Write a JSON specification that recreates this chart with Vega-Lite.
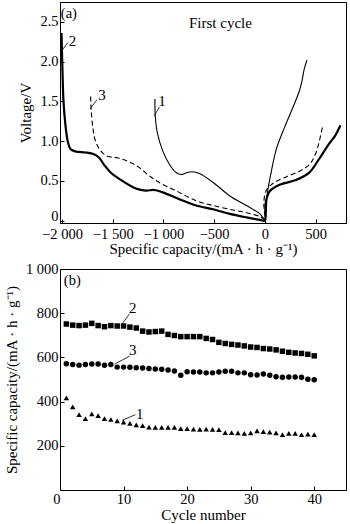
{
  "$schema": "https://vega.github.io/schema/vega-lite/v6.json",
  "padding": {"left": 3, "top": 1, "right": 1, "bottom": 1},
  "background": "white",
  "spacing": 3,
  "config": {
    "font": "Liberation Serif",
    "view": {"stroke": "black", "strokeWidth": 1},
    "axis": {
      "grid": false,
      "domainColor": "black",
      "tickColor": "black",
      "tickSize": -4,
      "labelColor": "black",
      "titleColor": "black",
      "labelFont": "Liberation Serif",
      "titleFont": "Liberation Serif",
      "labelFontSize": 14.5,
      "titleFontSize": 15,
      "titleFontWeight": "normal",
      "labelPadding": 6
    },
    "text": {"font": "Liberation Serif", "color": "black"}
  },
  "datasets": {
    "curves": [
      {"s": "2", "i": 1, "x": -2005, "y": 2.36},
      {"s": "2", "i": 2, "x": -2000, "y": 2.1},
      {"s": "2", "i": 3, "x": -1996, "y": 1.9},
      {"s": "2", "i": 4, "x": -1986, "y": 1.51},
      {"s": "2", "i": 5, "x": -1967, "y": 1.21},
      {"s": "2", "i": 6, "x": -1944, "y": 1.0},
      {"s": "2", "i": 7, "x": -1917, "y": 0.9},
      {"s": "2", "i": 8, "x": -1868, "y": 0.87},
      {"s": "2", "i": 9, "x": -1769, "y": 0.857},
      {"s": "2", "i": 10, "x": -1686, "y": 0.835},
      {"s": "2", "i": 11, "x": -1636, "y": 0.794},
      {"s": "2", "i": 12, "x": -1584, "y": 0.7},
      {"s": "2", "i": 13, "x": -1521, "y": 0.606},
      {"s": "2", "i": 14, "x": -1405, "y": 0.5},
      {"s": "2", "i": 15, "x": -1273, "y": 0.405},
      {"s": "2", "i": 16, "x": -1174, "y": 0.378},
      {"s": "2", "i": 17, "x": -1091, "y": 0.385},
      {"s": "2", "i": 18, "x": -1008, "y": 0.355},
      {"s": "2", "i": 19, "x": -843, "y": 0.27},
      {"s": "2", "i": 20, "x": -678, "y": 0.19},
      {"s": "2", "i": 21, "x": -500, "y": 0.14},
      {"s": "2", "i": 22, "x": -345, "y": 0.084},
      {"s": "2", "i": 23, "x": -180, "y": 0.04},
      {"s": "2", "i": 24, "x": -60, "y": 0.012},
      {"s": "2", "i": 25, "x": 0, "y": 0},
      {"s": "2", "i": 26, "x": 4, "y": 0.12},
      {"s": "2", "i": 27, "x": 12, "y": 0.25},
      {"s": "2", "i": 28, "x": 48, "y": 0.37},
      {"s": "2", "i": 29, "x": 145, "y": 0.45},
      {"s": "2", "i": 30, "x": 306, "y": 0.51},
      {"s": "2", "i": 31, "x": 435, "y": 0.6},
      {"s": "2", "i": 32, "x": 532, "y": 0.77},
      {"s": "2", "i": 33, "x": 629, "y": 0.96},
      {"s": "2", "i": 34, "x": 694, "y": 1.07},
      {"s": "2", "i": 35, "x": 745, "y": 1.2},
      {"s": "3", "i": 1, "x": -1718, "y": 1.56},
      {"s": "3", "i": 2, "x": -1712, "y": 1.38},
      {"s": "3", "i": 3, "x": -1696, "y": 1.17},
      {"s": "3", "i": 4, "x": -1670, "y": 1.0},
      {"s": "3", "i": 5, "x": -1620, "y": 0.88},
      {"s": "3", "i": 6, "x": -1554, "y": 0.81},
      {"s": "3", "i": 7, "x": -1455, "y": 0.79},
      {"s": "3", "i": 8, "x": -1339, "y": 0.74},
      {"s": "3", "i": 9, "x": -1240, "y": 0.67},
      {"s": "3", "i": 10, "x": -1141, "y": 0.565},
      {"s": "3", "i": 11, "x": -1042, "y": 0.48},
      {"s": "3", "i": 12, "x": -876, "y": 0.376},
      {"s": "3", "i": 13, "x": -678, "y": 0.25},
      {"s": "3", "i": 14, "x": -510, "y": 0.19},
      {"s": "3", "i": 15, "x": -300, "y": 0.13},
      {"s": "3", "i": 16, "x": -181, "y": 0.1},
      {"s": "3", "i": 17, "x": -49, "y": 0.05},
      {"s": "3", "i": 18, "x": 0, "y": 0.01},
      {"s": "3", "i": 19, "x": -10, "y": 0.2},
      {"s": "3", "i": 20, "x": 10, "y": 0.37},
      {"s": "3", "i": 21, "x": 82, "y": 0.47},
      {"s": "3", "i": 22, "x": 210, "y": 0.55},
      {"s": "3", "i": 23, "x": 339, "y": 0.62},
      {"s": "3", "i": 24, "x": 435, "y": 0.7},
      {"s": "3", "i": 25, "x": 500, "y": 0.84},
      {"s": "3", "i": 26, "x": 570, "y": 1.19},
      {"s": "1", "i": 1, "x": -1084, "y": 1.53},
      {"s": "1", "i": 2, "x": -1081, "y": 1.32},
      {"s": "1", "i": 3, "x": -1058, "y": 1.09},
      {"s": "1", "i": 4, "x": -1008, "y": 0.88},
      {"s": "1", "i": 5, "x": -942, "y": 0.71},
      {"s": "1", "i": 6, "x": -876, "y": 0.606},
      {"s": "1", "i": 7, "x": -826, "y": 0.58},
      {"s": "1", "i": 8, "x": -777, "y": 0.6},
      {"s": "1", "i": 9, "x": -720, "y": 0.615},
      {"s": "1", "i": 10, "x": -641, "y": 0.59},
      {"s": "1", "i": 11, "x": -510, "y": 0.48},
      {"s": "1", "i": 12, "x": -345, "y": 0.31},
      {"s": "1", "i": 13, "x": -181, "y": 0.19},
      {"s": "1", "i": 14, "x": -49, "y": 0.084},
      {"s": "1", "i": 15, "x": 0, "y": 0.02},
      {"s": "1", "i": 16, "x": 23, "y": 0.335},
      {"s": "1", "i": 17, "x": 65, "y": 0.627},
      {"s": "1", "i": 18, "x": 113, "y": 0.9},
      {"s": "1", "i": 19, "x": 193, "y": 1.17},
      {"s": "1", "i": 20, "x": 275, "y": 1.42},
      {"s": "1", "i": 21, "x": 340, "y": 1.63},
      {"s": "1", "i": 22, "x": 365, "y": 1.75},
      {"s": "1", "i": 23, "x": 387, "y": 1.9},
      {"s": "1", "i": 24, "x": 415, "y": 2.02}
    ],
    "labelsA": [
      {"t": "2", "x": -1896, "y": 2.26},
      {"t": "3", "x": -1606, "y": 1.58},
      {"t": "1", "x": -1014, "y": 1.51}
    ],
    "leadersA": [
      {"x": -2001, "y": 2.14, "x2": -1942, "y2": 2.24},
      {"x": -1722, "y": 1.41, "x2": -1655, "y2": 1.52},
      {"x": -1090, "y": 1.32, "x2": -1040, "y2": 1.43}
    ],
    "cycles": [
      {"s": "2", "c": 1, "v": 751}, {"s": "2", "c": 2, "v": 746}, {"s": "2", "c": 3, "v": 744}, {"s": "2", "c": 4, "v": 746},
      {"s": "2", "c": 5, "v": 754}, {"s": "2", "c": 6, "v": 744}, {"s": "2", "c": 7, "v": 739}, {"s": "2", "c": 8, "v": 744},
      {"s": "2", "c": 9, "v": 742}, {"s": "2", "c": 10, "v": 742}, {"s": "2", "c": 11, "v": 737}, {"s": "2", "c": 12, "v": 733},
      {"s": "2", "c": 13, "v": 719}, {"s": "2", "c": 14, "v": 715}, {"s": "2", "c": 15, "v": 717}, {"s": "2", "c": 16, "v": 719},
      {"s": "2", "c": 17, "v": 704}, {"s": "2", "c": 18, "v": 699}, {"s": "2", "c": 19, "v": 694}, {"s": "2", "c": 20, "v": 694},
      {"s": "2", "c": 21, "v": 694}, {"s": "2", "c": 22, "v": 694}, {"s": "2", "c": 23, "v": 686}, {"s": "2", "c": 24, "v": 681},
      {"s": "2", "c": 25, "v": 668}, {"s": "2", "c": 26, "v": 663}, {"s": "2", "c": 27, "v": 659}, {"s": "2", "c": 28, "v": 656},
      {"s": "2", "c": 29, "v": 652}, {"s": "2", "c": 30, "v": 647}, {"s": "2", "c": 31, "v": 645}, {"s": "2", "c": 32, "v": 640},
      {"s": "2", "c": 33, "v": 638}, {"s": "2", "c": 34, "v": 634}, {"s": "2", "c": 35, "v": 628}, {"s": "2", "c": 36, "v": 623},
      {"s": "2", "c": 37, "v": 620}, {"s": "2", "c": 38, "v": 618}, {"s": "2", "c": 39, "v": 614}, {"s": "2", "c": 40, "v": 607},
      {"s": "3", "c": 1, "v": 571}, {"s": "3", "c": 2, "v": 568}, {"s": "3", "c": 3, "v": 565}, {"s": "3", "c": 4, "v": 568},
      {"s": "3", "c": 5, "v": 570}, {"s": "3", "c": 6, "v": 570}, {"s": "3", "c": 7, "v": 564}, {"s": "3", "c": 8, "v": 568},
      {"s": "3", "c": 9, "v": 556}, {"s": "3", "c": 10, "v": 556}, {"s": "3", "c": 11, "v": 555}, {"s": "3", "c": 12, "v": 553},
      {"s": "3", "c": 13, "v": 552}, {"s": "3", "c": 14, "v": 550}, {"s": "3", "c": 15, "v": 547}, {"s": "3", "c": 16, "v": 546},
      {"s": "3", "c": 17, "v": 543}, {"s": "3", "c": 18, "v": 538}, {"s": "3", "c": 19, "v": 519}, {"s": "3", "c": 20, "v": 535},
      {"s": "3", "c": 21, "v": 534}, {"s": "3", "c": 22, "v": 534}, {"s": "3", "c": 23, "v": 530}, {"s": "3", "c": 24, "v": 530},
      {"s": "3", "c": 25, "v": 534}, {"s": "3", "c": 26, "v": 537}, {"s": "3", "c": 27, "v": 537}, {"s": "3", "c": 28, "v": 530},
      {"s": "3", "c": 29, "v": 530}, {"s": "3", "c": 30, "v": 521}, {"s": "3", "c": 31, "v": 520}, {"s": "3", "c": 32, "v": 525},
      {"s": "3", "c": 33, "v": 519}, {"s": "3", "c": 34, "v": 512}, {"s": "3", "c": 35, "v": 510}, {"s": "3", "c": 36, "v": 511},
      {"s": "3", "c": 37, "v": 511}, {"s": "3", "c": 38, "v": 510}, {"s": "3", "c": 39, "v": 501}, {"s": "3", "c": 40, "v": 499},
      {"s": "1", "c": 1, "v": 417}, {"s": "1", "c": 2, "v": 376}, {"s": "1", "c": 3, "v": 341}, {"s": "1", "c": 4, "v": 323},
      {"s": "1", "c": 5, "v": 345}, {"s": "1", "c": 6, "v": 336}, {"s": "1", "c": 7, "v": 323}, {"s": "1", "c": 8, "v": 319},
      {"s": "1", "c": 9, "v": 313}, {"s": "1", "c": 10, "v": 307}, {"s": "1", "c": 11, "v": 301}, {"s": "1", "c": 12, "v": 295},
      {"s": "1", "c": 13, "v": 291}, {"s": "1", "c": 14, "v": 285}, {"s": "1", "c": 15, "v": 283}, {"s": "1", "c": 16, "v": 283},
      {"s": "1", "c": 17, "v": 283}, {"s": "1", "c": 18, "v": 283}, {"s": "1", "c": 19, "v": 278}, {"s": "1", "c": 20, "v": 278},
      {"s": "1", "c": 21, "v": 276}, {"s": "1", "c": 22, "v": 274}, {"s": "1", "c": 23, "v": 276}, {"s": "1", "c": 24, "v": 274},
      {"s": "1", "c": 25, "v": 273}, {"s": "1", "c": 26, "v": 260}, {"s": "1", "c": 27, "v": 260}, {"s": "1", "c": 28, "v": 258},
      {"s": "1", "c": 29, "v": 256}, {"s": "1", "c": 30, "v": 259}, {"s": "1", "c": 31, "v": 267}, {"s": "1", "c": 32, "v": 264},
      {"s": "1", "c": 33, "v": 262}, {"s": "1", "c": 34, "v": 259}, {"s": "1", "c": 35, "v": 251}, {"s": "1", "c": 36, "v": 256},
      {"s": "1", "c": 37, "v": 256}, {"s": "1", "c": 38, "v": 250}, {"s": "1", "c": 39, "v": 253}, {"s": "1", "c": 40, "v": 251}
    ],
    "labelsB": [
      {"t": "2", "c": 11.45, "v": 824},
      {"t": "3", "c": 11.45, "v": 632},
      {"t": "1", "c": 12.54, "v": 345}
    ],
    "leadersB": [
      {"c": 9.77, "v": 752, "c2": 10.97, "v2": 798},
      {"c": 8.58, "v": 569, "c2": 10.97, "v2": 606},
      {"c": 9.77, "v": 315, "c2": 11.87, "v2": 341}
    ]
  },
  "vconcat": [
    {
      "width": 286,
      "height": 221,
      "encoding": {
        "x": {
          "field": "x", "type": "quantitative",
          "scale": {"domain": [-2020, 800], "nice": false, "zero": false},
          "axis": {
            "values": [-2000, -1500, -1000, -500, 0, 500],
            "labelExpr": "replace(datum.label, ',', ' ')",
            "labelPadding": 8,
            "title": "Specific capacity/(mA · h · g⁻¹)",
            "titlePadding": 1
          }
        },
        "y": {
          "field": "y", "type": "quantitative",
          "scale": {"domain": [-0.03, 2.75], "nice": false, "zero": false},
          "axis": {
            "values": [0, 0.5, 1, 1.5, 2, 2.5],
            "labelExpr": "datum.value == 0 ? '0' : format(datum.value, '.1f')",
            "labelBaseline": {"condition": {"test": "datum.value == 0", "value": "alphabetic"}, "value": "middle"},
            "title": "Voltage/V",
            "titlePadding": 6
          }
        }
      },
      "layer": [
        {
          "data": {"name": "curves"},
          "transform": [{"filter": "datum.s == '2'"}],
          "mark": {"type": "line", "color": "black", "strokeWidth": 2.2, "interpolate": "catmull-rom"},
          "encoding": {"order": {"field": "i", "type": "quantitative"}}
        },
        {
          "data": {"name": "curves"},
          "transform": [{"filter": "datum.s == '1'"}],
          "mark": {"type": "line", "color": "black", "strokeWidth": 1.1, "interpolate": "catmull-rom"},
          "encoding": {"order": {"field": "i", "type": "quantitative"}}
        },
        {
          "data": {"name": "curves"},
          "transform": [{"filter": "datum.s == '3'"}],
          "mark": {"type": "line", "color": "black", "strokeWidth": 1.1, "strokeDash": [5, 3], "interpolate": "catmull-rom"},
          "encoding": {"order": {"field": "i", "type": "quantitative"}}
        },
        {
          "data": {"name": "leadersA"},
          "mark": {"type": "rule", "color": "black", "strokeWidth": 0.8},
          "encoding": {
            "x2": {"field": "x2"},
            "y2": {"field": "y2"}
          }
        },
        {
          "data": {"name": "labelsA"},
          "mark": {"type": "text", "fontSize": 15, "align": "center", "baseline": "middle"},
          "encoding": {"text": {"field": "t"}}
        },
        {
          "data": {"values": [{"t": "(a)", "x": -2012, "y": 2.6}]},
          "mark": {"type": "text", "fontSize": 14.5, "align": "left", "baseline": "middle"},
          "encoding": {"text": {"field": "t"}}
        },
        {
          "data": {"values": [{"t": "First cycle", "x": -438, "y": 2.49}]},
          "mark": {"type": "text", "fontSize": 15, "align": "center", "baseline": "middle"},
          "encoding": {"text": {"field": "t"}}
        }
      ]
    },
    {
      "width": 286,
      "height": 221,
      "encoding": {
        "x": {
          "field": "c", "type": "quantitative",
          "scale": {"domain": [0, 45], "nice": false},
          "axis": {
            "values": [0, 10, 20, 30, 40],
            "title": "Cycle number",
            "titlePadding": 2,
            "labelAlign": {"condition": {"test": "datum.value == 0", "value": "right"}, "value": "center"}
          }
        },
        "y": {
          "field": "v", "type": "quantitative",
          "scale": {"domain": [0, 1000], "nice": false},
          "axis": {
            "values": [200, 400, 600, 800, 1000],
            "labelExpr": "replace(datum.label, ',', ' ')",
            "title": "Specific capacity/(mA · h · g⁻¹)",
            "titlePadding": 6
          }
        }
      },
      "layer": [
        {
          "data": {"name": "cycles"},
          "mark": {"type": "point", "filled": true, "color": "black", "opacity": 1, "size": 30},
          "encoding": {
            "shape": {"field": "s", "type": "nominal", "scale": {"domain": ["1", "2", "3"], "range": ["triangle-up", "square", "circle"]}, "legend": null}
          }
        },
        {
          "data": {"name": "leadersB"},
          "mark": {"type": "rule", "color": "black", "strokeWidth": 0.8},
          "encoding": {
            "x2": {"field": "c2"},
            "y2": {"field": "v2"}
          }
        },
        {
          "data": {"name": "labelsB"},
          "mark": {"type": "text", "fontSize": 15, "align": "center", "baseline": "middle"},
          "encoding": {"text": {"field": "t"}}
        },
        {
          "data": {"values": [{"t": "(b)", "c": 0.6, "v": 946}]},
          "mark": {"type": "text", "fontSize": 14.5, "align": "left", "baseline": "middle"},
          "encoding": {"text": {"field": "t"}}
        }
      ]
    }
  ]
}
